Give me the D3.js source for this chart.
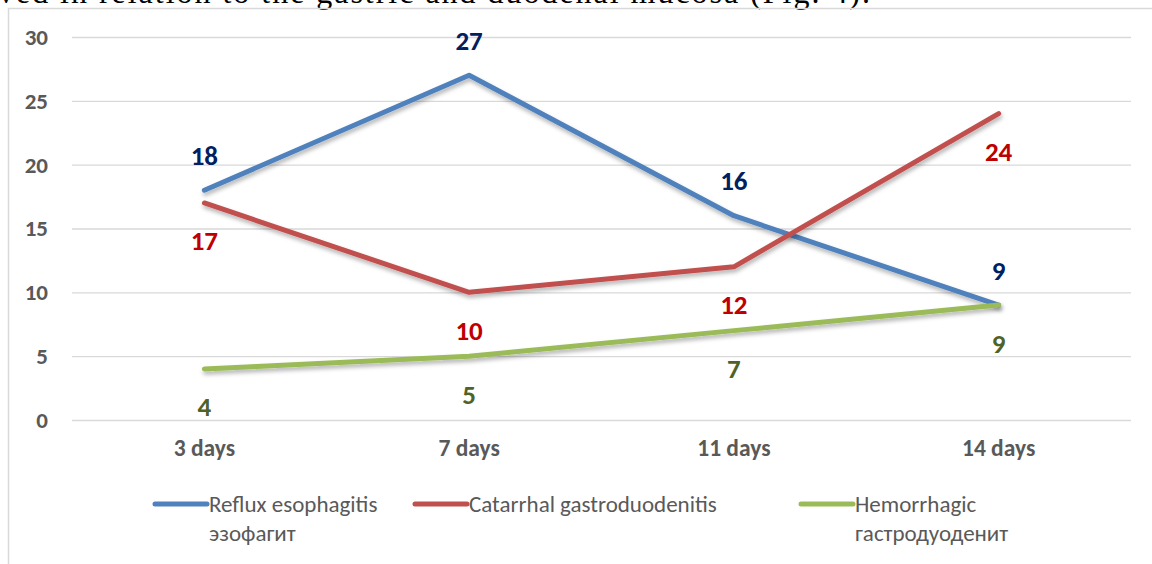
<!DOCTYPE html>
<html>
<head>
<meta charset="utf-8">
<script src="https://cdn.jsdelivr.net/npm/d3@7"></script>
<style>
  body { margin: 0; background: #fff; }
  svg { display: block; }
</style>
</head>
<body>
<div class="chart"></div>
<script>
// -- data --
const categories = ["3 days", "7 days", "11 days", "14 days"];
const reflux = [18, 27, 16, 9];
const catarrhal = [17, 10, 12, 24];
const hemorrhagic = [4, 5, 7, 9];
const yTicks = [0, 5, 10, 15, 20, 25, 30];

const series = [
  { name: ["Reflux esophagitis", "эзофагит"], values: reflux, color: "#4f81bd", labelColor: "#002060", above: true, legendX: 155 },
  { name: ["Catarrhal gastroduodenitis"], values: catarrhal, color: "#c0504d", labelColor: "#c00000", above: false, legendX: 415 },
  { name: ["Hemorrhagic", "гастродуоденит"], values: hemorrhagic, color: "#9bbb59", labelColor: "#4f6228", above: false, legendX: 801 }
];

var width = 1152,
    height = 564,
    margin = {top: 37, right: 21, bottom: 144, left: 72},
    font = "Carlito, Calibri, Lato, 'Open Sans', sans-serif";

var svg = d3.select("div.chart").append("svg")
    .attr("width", width)
    .attr("height", height);

// shadow under the lines
var defs = svg.append("defs");
var f = defs.append("filter").attr("id", "shadow")
    .attr("x", "-10%").attr("y", "-10%").attr("width", "120%").attr("height", "130%");
f.append("feDropShadow")
    .attr("dx", 1).attr("dy", 3).attr("stdDeviation", 2)
    .attr("flood-color", "#000").attr("flood-opacity", 0.3);

// bit of the page text cut off above the figure
svg.append("text")
    .attr("x", -2)
    .attr("y", 3)
    .attr("font-family", "'Liberation Serif', 'Times New Roman', serif")
    .attr("font-size", 32)
    .attr("textLength", 872)
    .attr("lengthAdjust", "spacing")
    .attr("fill", "#000")
    .text("ved in relation to the gastric and duodenal mucosa (Fig. 4).");

// chart frame (only top and left edges visible)
svg.append("path")
    .attr("d", "M8.5," + height + "V8.5H" + width)
    .attr("fill", "none")
    .attr("stroke", "#d9d9d9")
    .attr("stroke-width", 1.5);

var x = d3.scaleBand()
    .domain(categories)
    .range([margin.left, width - margin.right]);

var y = d3.scaleLinear()
    .domain([0, 30])
    .range([height - margin.bottom, margin.top]);

var cx = c => x(c) + x.bandwidth() / 2;

// gridlines
svg.append("g")
    .selectAll("line")
    .data(yTicks)
  .enter().append("line")
    .attr("x1", margin.left)
    .attr("x2", width - margin.right)
    .attr("y1", d => y(d) + 0.5)
    .attr("y2", d => y(d) + 0.5)
    .attr("stroke", "#d9d9d9")
    .attr("stroke-width", 1.3);

// y axis labels
var yAxis = svg.append("g")
    .attr("transform", "translate(" + (margin.left - 24) + ",0)")
    .call(d3.axisLeft(y).tickValues(yTicks).tickSize(0).tickPadding(0));
yAxis.select(".domain").remove();
yAxis.selectAll("text")
    .attr("font-family", font)
    .attr("font-size", 23)
    .attr("font-weight", "bold")
    .attr("fill", "#595959");

// x axis labels
var xAxis = svg.append("g")
    .attr("transform", "translate(0," + (height - margin.bottom) + ")")
    .call(d3.axisBottom(x).tickSize(0).tickPadding(19));
xAxis.select(".domain").remove();
xAxis.selectAll("text")
    .attr("font-family", font)
    .attr("font-size", 23.5)
    .attr("font-weight", "bold")
    .attr("fill", "#595959");

var line = d3.line()
    .x((d, i) => cx(categories[i]))
    .y(d => y(d));

series.forEach(s => {
  svg.append("path")
      .datum(s.values)
      .attr("fill", "none")
      .attr("stroke", s.color)
      .attr("stroke-width", 5)
      .attr("stroke-linejoin", "round")
      .attr("stroke-linecap", "round")
      .attr("filter", "url(#shadow)")
      .attr("d", line);
});

// data labels
series.forEach(s => {
  svg.append("g")
      .selectAll("text")
      .data(s.values)
    .enter().append("text")
      .attr("x", (d, i) => cx(categories[i]))
      .attr("y", d => y(d) + (s.above ? -35 : 38))
      .attr("dy", "0.35em")
      .attr("text-anchor", "middle")
      .attr("font-family", font)
      .attr("font-size", 27)
      .attr("font-weight", "bold")
      .attr("fill", s.labelColor)
      .text(d => d);
});

// legend
var legend = svg.append("g");
series.forEach(s => {
  legend.append("line")
      .attr("x1", s.legendX)
      .attr("x2", s.legendX + 52)
      .attr("y1", 504)
      .attr("y2", 504)
      .attr("stroke", s.color)
      .attr("stroke-width", 5)
      .attr("stroke-linecap", "round");
  var t = legend.append("text")
      .attr("x", s.legendX + 54)
      .attr("y", 512)
      .attr("font-family", font)
      .attr("font-size", 23)
      .attr("fill", "#595959");
  s.name.forEach((n, i) => {
    t.append("tspan")
        .attr("x", s.legendX + 54)
        .attr("dy", i == 0 ? 0 : 29)
        .text(n);
  });
});
</script>
</body>
</html>
